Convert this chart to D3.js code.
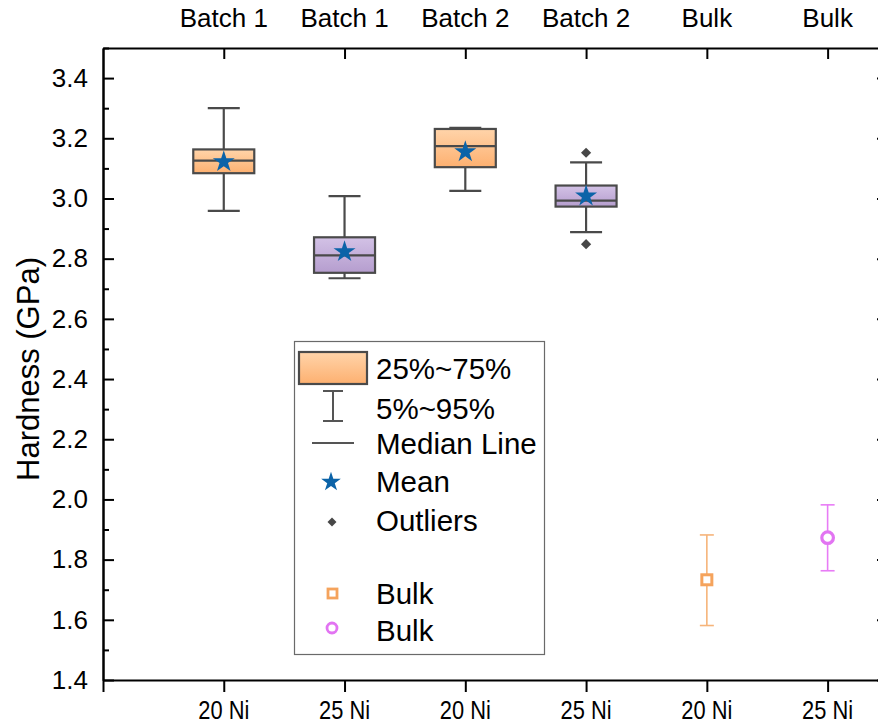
<!DOCTYPE html>
<html><head><meta charset="utf-8">
<script src="https://cdn.jsdelivr.net/npm/d3@7"></script>
<style>
body{margin:0;background:#fff;}
text{font-family:"Liberation Sans",Arial,sans-serif;fill:#000;}
</style></head>
<body><svg id="c" width="878" height="728"></svg>
<script>
// ---- data ----
const topLabels = ["Batch 1","Batch 1","Batch 2","Batch 2","Bulk","Bulk"];
const bottomLabels = ["20 Ni","25 Ni","20 Ni","25 Ni","20 Ni","25 Ni"];
const boxPos = [1,2,3,4];
const boxKind = ["orange","purple","orange","purple"];
const p5  = [2.959, 2.735, 3.025, 2.888];
const q1  = [3.084, 2.753, 3.104, 2.973];
const med = [3.126, 2.811, 3.174, 2.993];
const q3  = [3.163, 2.871, 3.231, 3.043];
const p95 = [3.300, 3.008, 3.235, 3.120];
const meanVals = [3.122, 2.823, 3.155, 3.008];
const outliers = [[],[],[],[2.848, 3.152]];
const bulkPos = [5,6];
const bulkMean = [1.733, 1.873];
const bulkLow  = [1.581, 1.763];
const bulkHigh = [1.882, 1.982];
const yMajor = [1.4,1.6,1.8,2.0,2.2,2.4,2.6,2.8,3.0,3.2,3.4];
const yMinor = [1.5,1.7,1.9,2.1,2.3,2.5,2.7,2.9,3.1,3.3,3.5];
const legendItems = ["25%~75%","5%~95%","Median Line","Mean","Outliers","","Bulk","Bulk"];

const svg = d3.select("#c");
const x = d3.scaleLinear().domain([0,6.5]).range([103,888]);
const y = d3.scaleLinear().domain([1.4,3.5]).range([680,48]);

const defs = svg.append("defs");
function grad(id, c1, c2){
  const g = defs.append("linearGradient").attr("id",id).attr("x1",0).attr("y1",0).attr("x2",0).attr("y2",1);
  g.append("stop").attr("offset","0%").attr("stop-color",c1);
  g.append("stop").attr("offset","100%").attr("stop-color",c2);
}
grad("gOrange","#ffd4aa","#fdb070");
grad("gPurple","#d3c2e6","#b59dce");
const fillOf = k => k==="orange" ? "url(#gOrange)" : "url(#gPurple)";
const boxStroke = "#4a4a4a";

// ---- axes ----
const axisW = 2;
function styleAxis(g){ g.selectAll("path,line").attr("stroke","#000").attr("stroke-width",axisW); }

const gl = svg.append("g").attr("transform",`translate(${x(0)},0)`)
  .call(d3.axisLeft(y).tickValues(yMajor).tickSize(-11).tickSizeOuter(0).tickPadding(15).tickFormat(d3.format(".1f")));
styleAxis(gl);
gl.selectAll("text").attr("font-size",26).style("font-family",'"Liberation Sans",Arial,sans-serif').attr("fill","#000");
const glm = svg.append("g").attr("transform",`translate(${x(0)},0)`)
  .call(d3.axisLeft(y).tickValues(yMinor).tickSize(-6).tickSizeOuter(0).tickFormat(""));
styleAxis(glm);
const gr = svg.append("g").attr("transform",`translate(${x(6.5)},0)`)
  .call(d3.axisRight(y).tickValues(yMajor).tickSize(-11).tickSizeOuter(0).tickFormat(""));
styleAxis(gr);
const grm = svg.append("g").attr("transform",`translate(${x(6.5)},0)`)
  .call(d3.axisRight(y).tickValues(yMinor).tickSize(-6).tickSizeOuter(0).tickFormat(""));
styleAxis(grm);
const gb = svg.append("g").attr("transform",`translate(0,${y(1.4)})`)
  .call(d3.axisBottom(x).tickValues([0,1,2,3,4,5,6]).tickSize(12).tickSizeOuter(0).tickFormat(""));
styleAxis(gb);
const gt = svg.append("g").attr("transform",`translate(0,${y(3.5)})`)
  .call(d3.axisTop(x).tickValues([1,2,3,4,5,6]).tickSize(-11).tickSizeOuter(0).tickFormat(""));
styleAxis(gt);

// category labels
svg.append("g").selectAll("text").data(bottomLabels).join("text")
  .attr("x",(d,i)=>x(i+1)).attr("y",719).attr("text-anchor","middle")
  .attr("font-size",25).attr("textLength",51).attr("lengthAdjust","spacingAndGlyphs").text(d=>d);
svg.append("g").selectAll("text").data(topLabels).join("text")
  .attr("x",(d,i)=>x(i+1)).attr("y",27).attr("text-anchor","middle")
  .attr("font-size",26).text(d=>d);

// y title
svg.append("text").attr("transform","translate(39,369) rotate(-90)")
  .attr("text-anchor","middle").attr("font-size",31).text("Hardness (GPa)");

// ---- boxes ----
const boxW = 61, capW = 32;
const gbx = svg.append("g");
boxPos.forEach((p,i)=>{
  const cx = x(p);
  const g = gbx.append("g");
  g.append("line").attr("x1",cx).attr("x2",cx).attr("y1",y(p95[i])).attr("y2",y(q3[i])).attr("stroke",boxStroke).attr("stroke-width",2.2);
  g.append("line").attr("x1",cx).attr("x2",cx).attr("y1",y(q1[i])).attr("y2",y(p5[i])).attr("stroke",boxStroke).attr("stroke-width",2.2);
  [p95[i],p5[i]].forEach(v=>g.append("line").attr("x1",cx-capW/2).attr("x2",cx+capW/2).attr("y1",y(v)).attr("y2",y(v)).attr("stroke",boxStroke).attr("stroke-width",2.2));
  g.append("rect").attr("x",cx-boxW/2).attr("width",boxW).attr("y",y(q3[i])).attr("height",y(q1[i])-y(q3[i]))
    .attr("fill",fillOf(boxKind[i])).attr("stroke",boxStroke).attr("stroke-width",2.2);
  g.append("line").attr("x1",cx-boxW/2).attr("x2",cx+boxW/2).attr("y1",y(med[i])).attr("y2",y(med[i])).attr("stroke",boxStroke).attr("stroke-width",2.2);
  g.append("path").attr("d",d3.symbol(d3.symbolStar,150)()).attr("transform",`translate(${cx},${y(meanVals[i])})`).attr("fill","#0b63a8");
  outliers[i].forEach(v=>g.append("path").attr("d",d3.symbol(d3.symbolSquare,52)()).attr("transform",`translate(${cx},${y(v)}) rotate(45)`).attr("fill","#474747"));
});

// ---- bulk points ----
const bulkColors = ["#f6b47a","#e87cf6"];
const bulkMarker = ["#f5a35c","#e274f2"];
bulkPos.forEach((p,i)=>{
  const cx = x(p);
  const g = svg.append("g");
  g.append("line").attr("x1",cx).attr("x2",cx).attr("y1",y(bulkHigh[i])).attr("y2",y(bulkLow[i])).attr("stroke",bulkColors[i]).attr("stroke-width",1.6);
  [bulkHigh[i],bulkLow[i]].forEach(v=>g.append("line").attr("x1",cx-7).attr("x2",cx+7).attr("y1",y(v)).attr("y2",y(v)).attr("stroke",bulkColors[i]).attr("stroke-width",1.6));
  if(i===0){
    g.append("rect").attr("x",cx-5).attr("y",y(bulkMean[i])-5).attr("width",10).attr("height",10).attr("fill","#fff").attr("stroke",bulkMarker[i]).attr("stroke-width",3);
  } else {
    g.append("circle").attr("cx",cx).attr("cy",y(bulkMean[i])).attr("r",5.8).attr("fill","#fff").attr("stroke",bulkMarker[i]).attr("stroke-width",3.2);
  }
});

// ---- legend ----
const lg = svg.append("g");
lg.append("rect").attr("x",294.5).attr("y",341.5).attr("width",250).attr("height",313).attr("fill","#fff").attr("stroke","#6a6a6a").attr("stroke-width",1.2);
const rowY = [368,408,443,481,520,556,593,630];
lg.selectAll("text").data(legendItems).join("text")
  .attr("x",376).attr("y",(d,i)=>rowY[i]+10.5).attr("font-size",29.5).text(d=>d);
lg.append("rect").attr("x",299).attr("y",352).attr("width",68).attr("height",32).attr("fill","url(#gOrange)").attr("stroke",boxStroke).attr("stroke-width",2.2);
lg.append("line").attr("x1",333).attr("x2",333).attr("y1",391).attr("y2",421).attr("stroke","#555").attr("stroke-width",2);
[391,421].forEach(v=>lg.append("line").attr("x1",323).attr("x2",343).attr("y1",v).attr("y2",v).attr("stroke","#555").attr("stroke-width",2));
lg.append("line").attr("x1",312).attr("x2",354).attr("y1",443).attr("y2",443).attr("stroke","#555").attr("stroke-width",2);
lg.append("path").attr("d",d3.symbol(d3.symbolStar,120)()).attr("transform","translate(331,482)").attr("fill","#0b63a8");
lg.append("path").attr("d",d3.symbol(d3.symbolSquare,40)()).attr("transform","translate(332,522) rotate(45)").attr("fill","#474747");
lg.append("rect").attr("x",328).attr("y",589).attr("width",9).attr("height",9).attr("fill","#fff").attr("stroke",bulkMarker[0]).attr("stroke-width",2.8);
lg.append("circle").attr("cx",332).attr("cy",628).attr("r",5).attr("fill","#fff").attr("stroke",bulkMarker[1]).attr("stroke-width",2.8);
</script></body></html>
